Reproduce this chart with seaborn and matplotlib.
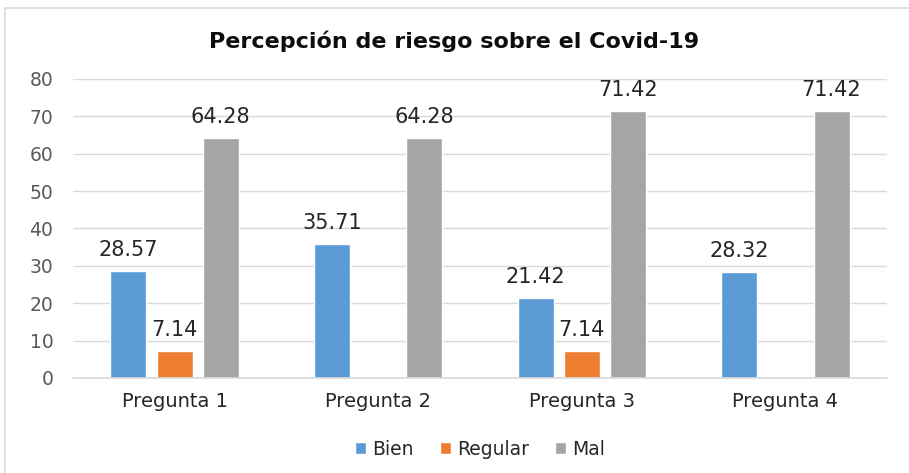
import matplotlib
matplotlib.use("Agg")
import matplotlib.pyplot as plt
import seaborn as sns
import pandas as pd
from matplotlib.patches import Rectangle

categories = ["Pregunta 1", "Pregunta 2", "Pregunta 3", "Pregunta 4"]
series_names = ["Bien", "Regular", "Mal"]
bien = [28.57, 35.71, 21.42, 28.32]
regular = [7.14, 0, 7.14, 0]
mal = [64.28, 64.28, 71.42, 71.42]
yticks = [0, 10, 20, 30, 40, 50, 60, 70, 80]
colors = ["#5B9BD5", "#ED7D31", "#A5A5A5"]

rows = []
for name, vals in zip(series_names, [bien, regular, mal]):
    for c, v in zip(categories, vals):
        rows.append({"cat": c, "serie": name, "valor": v})
df = pd.DataFrame(rows)

sns.set_theme(style="white")
plt.rcParams['font.family'] = 'sans-serif'
plt.rcParams['font.sans-serif'] = ['DejaVu Sans']

fig = plt.figure(figsize=(9.09, 4.73), dpi=100)
ax = fig.add_axes([0.080, 0.201, 0.896, 0.632])

sns.barplot(data=df, x="cat", y="valor", hue="serie", palette=colors,
            width=0.68, gap=0.22, ax=ax, legend=True, saturation=1)

ax.set_ylim(0, 80)
ax.set_yticks(yticks)
ax.set_xlim(-0.5, 3.5)
ax.grid(axis="y", color="#d9d9d9", linewidth=1)
ax.set_axisbelow(True)
for s in ["top", "right", "left"]:
    ax.spines[s].set_visible(False)
ax.spines["bottom"].set_color("#d9d9d9")
ax.tick_params(axis="y", labelsize=13.5, colors="#595959", length=0, pad=14)
ax.tick_params(axis="x", labelsize=14, colors="#262626", length=0, pad=10)
ax.set_xlabel("")
ax.set_ylabel("")

for cont in ax.containers:
    labels = [f"{v:.2f}" if v > 0 else "" for v in cont.datavalues]
    ax.bar_label(cont, labels=labels, fontsize=15, color="#262626", padding=8)

handles, labs = ax.get_legend_handles_labels()
ax.legend(handles, labs, loc="upper center", bbox_to_anchor=(0.5, -0.15),
          ncol=3, frameon=False, fontsize=13.5, handlelength=0.6, handleheight=0.6,
          handletextpad=0.3, columnspacing=1.4, labelcolor="#262626")

fig.text(0.5, 0.912, "Percepción de riesgo sobre el Covid-19", ha="center",
         va="center", fontsize=16, fontweight="bold", color="#0d0d0d")

fig.patches.append(Rectangle((5/909, -0.01), 1.0, 1 - 8/473 + 0.01,
                             transform=fig.transFigure, fill=False,
                             edgecolor="#d9d9d9", linewidth=1.2))

fig.savefig("out.png", dpi=100, facecolor="white")
